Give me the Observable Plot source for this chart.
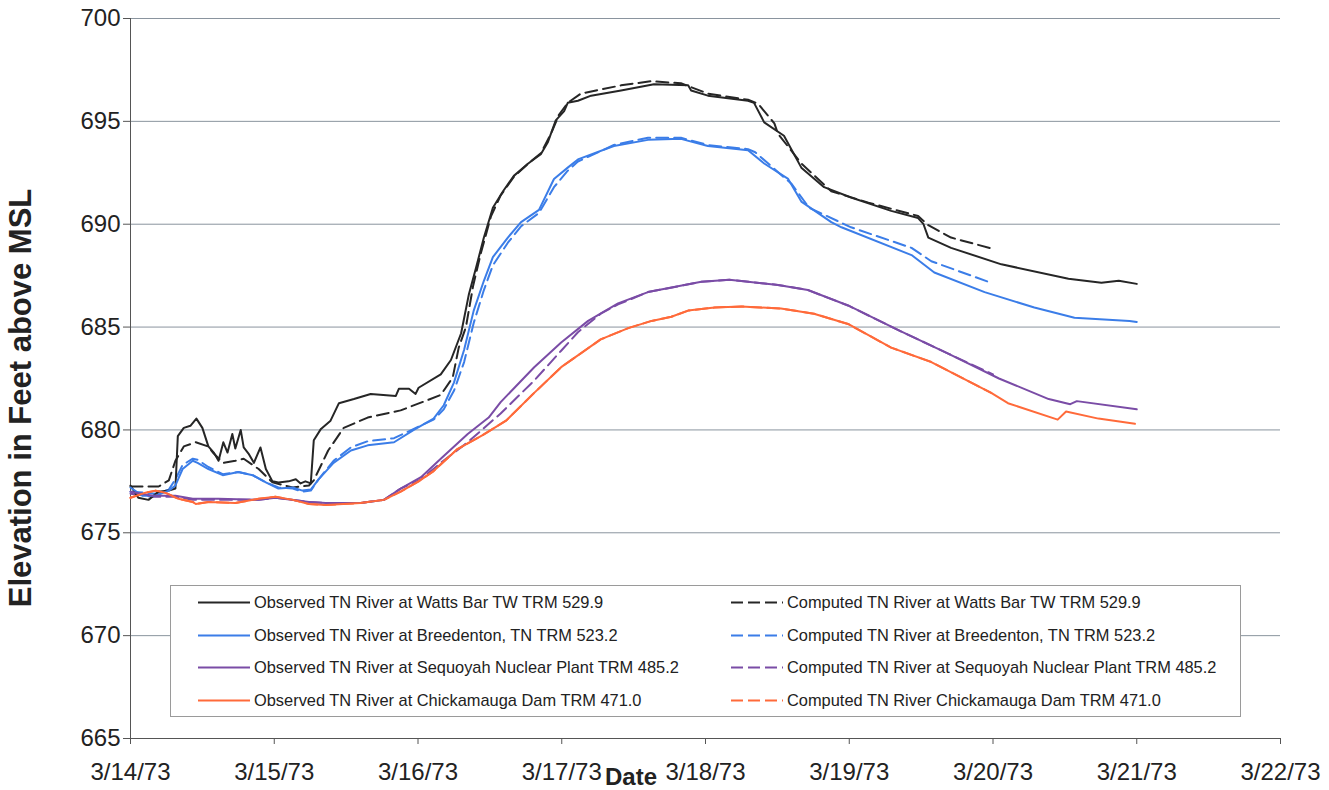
<!DOCTYPE html>
<html><head><meta charset="utf-8">
<script src="https://cdn.jsdelivr.net/npm/d3@7"></script>
<script src="https://cdn.jsdelivr.net/npm/@observablehq/plot@0.6"></script>
<style>
body{margin:0;background:#fff;}
#wrap{position:relative;width:1329px;height:790px;font-family:"Liberation Sans",Arial,sans-serif;color:#222;}
#wrap > svg{position:absolute;left:0;top:0;}
#ytitle{position:absolute;left:21px;top:398px;transform:translate(-50%,-50%) rotate(-90deg);font-weight:bold;font-size:31px;white-space:nowrap;}
#xtitle{position:absolute;left:631px;top:777px;transform:translate(-50%,-50%);font-weight:bold;font-size:24px;}
#legend{position:absolute;left:170px;top:585px;width:1071px;height:132px;border:1px solid #9a9a9a;background:#fff;box-sizing:border-box;}
.item{position:absolute;display:flex;align-items:center;font-size:16.4px;white-space:nowrap;transform:translateY(-50%);}
.item svg{display:block;margin-right:4px;}
</style></head>
<body><div id="wrap"></div>
<script>
// ---- data (hours after 3/14/73 00:00, elevation in ft above MSL) ----
const xTickLabels = ["3/14/73","3/15/73","3/16/73","3/17/73","3/18/73","3/19/73","3/20/73","3/21/73","3/22/73"];
const yTicks = [665,670,675,680,685,690,695,700];

const wbObsHours = [0,1.3,3.0,4.7,6.4,7.5,7.9,8.9,10.0,11.0,12.0,13.0,13.9,14.7,15.5,16.2,17.0,17.5,18.4,18.9,19.7,20.6,21.7,22.6,23.7,24.7,26.4,27.6,28.4,29.2,30.1,30.6,31.8,33.4,34.8,37.3,40.1,44.3,44.8,46.5,47.6,48.1,51.8,53.5,55.2,56.5,57.7,59.0,60.5,62.2,64.0,66.4,68.5,69.7,71.0,72.4,73.0,74.7,76.9,81.9,87.4,93.1,93.6,96.4,103.1,104.1,105.8,109.1,112.0,115.8,120.3,127.0,131.5,132.4,133.2,137.0,145.4,156.6,162.1,165.0,168.0];
const wbObsElev = [677.3,676.7,676.6,677.0,677.05,677.15,679.7,680.1,680.2,680.55,680.1,679.2,678.9,678.5,679.4,678.9,679.8,679.1,680.0,679.15,678.85,678.4,679.15,678.1,677.5,677.45,677.5,677.6,677.4,677.5,677.4,679.5,680.05,680.45,681.3,681.5,681.75,681.65,682.0,682.0,681.75,682.05,682.7,683.4,684.7,686.6,687.9,689.35,690.8,691.6,692.35,692.95,693.4,694.0,695.05,695.5,695.9,696.0,696.25,696.5,696.8,696.75,696.5,696.25,696.0,695.9,694.95,694.3,692.75,691.8,691.3,690.65,690.3,690.0,689.35,688.85,688.05,687.35,687.15,687.25,687.1];

const wbCompHours = [0,4.7,6.4,7.5,8.9,10.9,12.9,13.9,15.5,17.5,18.9,21.4,23.7,27.1,29.8,30.6,33.0,35.6,39.6,45.1,49.6,51.8,53.8,54.8,56.0,57.2,58.5,60.2,61.8,64.0,66.4,68.5,70.2,71.5,73.0,75.2,81.9,86.9,91.9,96.4,103.1,104.8,107.5,108.1,112.0,117.0,123.2,131.5,133.2,137.0,144.0];
const wbCompElev = [677.25,677.25,677.55,678.5,679.2,679.4,679.2,678.85,678.4,678.5,678.6,678.1,677.45,677.2,677.3,677.55,679.0,680.1,680.6,680.95,681.45,681.7,682.55,684.0,685.0,687.0,688.6,690.4,691.4,692.3,692.95,693.45,694.4,695.3,695.9,696.35,696.75,696.95,696.85,696.35,696.05,695.85,694.9,694.4,692.95,691.6,691.05,690.4,689.95,689.35,688.8];

const brObsHours = [0,2.0,4.2,6.4,7.5,8.7,10.4,11.2,13.0,15.4,18.0,20.4,22.6,24.7,27.1,28.7,30.1,31.4,33.9,36.8,39.6,44.0,47.3,50.6,52.3,54.0,55.7,57.3,59.0,60.5,63.0,65.2,68.2,70.7,73.0,74.7,80.7,86.4,91.9,96.4,103.1,105.8,109.8,112.0,117.0,118.7,130.4,134.2,142.6,150.9,157.6,166.8,168.0];
const brObsElev = [677.2,676.8,676.8,677.05,677.3,678.1,678.5,678.4,678.1,677.8,677.95,677.8,677.45,677.15,677.2,677.05,677.1,677.6,678.4,679.0,679.25,679.4,680.0,680.55,681.2,682.3,683.9,685.8,687.25,688.4,689.35,690.1,690.7,692.2,692.75,693.15,693.8,694.1,694.15,693.8,693.6,692.95,692.2,691.1,690.1,689.85,688.5,687.65,686.7,685.95,685.45,685.3,685.25];

const brCompHours = [0,4.2,6.4,7.5,8.7,10.4,11.2,13.0,15.4,18.0,20.4,22.6,24.7,27.1,28.7,30.1,31.4,33.9,36.8,39.6,44.0,47.3,50.6,52.3,54.0,55.7,57.3,59.0,60.5,63.0,65.2,68.2,70.7,73.0,74.7,80.7,86.4,91.9,96.4,103.1,104.3,110.4,113.3,120.3,130.4,133.7,143.7];
const brCompElev = [677.0,676.9,677.1,677.6,678.3,678.6,678.55,678.2,677.85,677.95,677.8,677.45,677.2,677.15,677.0,677.05,677.6,678.5,679.15,679.45,679.6,680.05,680.5,681.0,681.9,683.3,685.2,686.8,688.0,689.1,689.9,690.55,691.8,692.6,693.05,693.85,694.2,694.2,693.85,693.65,693.5,691.95,690.8,689.85,688.85,688.2,687.15];

const sqObsHours = [0,3.7,7.5,10.4,14.7,21.4,24.2,29.8,32.6,38.4,42.3,45.1,48.5,51.8,56.3,59.8,61.8,67.4,71.9,76.4,81.4,86.4,95.3,100.0,108.1,113.1,119.8,128.2,136.6,145.0,153.3,156.9,158.0,168.0];
const sqObsElev = [677.0,676.8,676.8,676.65,676.65,676.6,676.7,676.5,676.45,676.45,676.6,677.15,677.7,678.6,679.8,680.6,681.35,683.05,684.25,685.3,686.15,686.7,687.2,687.3,687.05,686.8,686.05,684.85,683.7,682.5,681.5,681.25,681.4,681.0];

const sqCompHours = [0,3.7,7.5,10.4,14.7,21.4,24.2,29.8,32.6,38.4,42.3,45.1,48.5,51.8,56.3,61.8,67.4,71.9,74.7,78.5,81.4,86.4,95.3,100.0,108.1,113.1,119.8,128.2,136.6,144.0];
const sqCompElev = [676.9,676.75,676.75,676.6,676.6,676.6,676.7,676.5,676.45,676.45,676.6,677.15,677.6,678.4,679.4,680.8,682.4,683.85,684.75,685.65,686.1,686.7,687.2,687.3,687.05,686.8,686.05,684.85,683.7,682.7];

const cdObsHours = [0,2.5,4.2,5.8,8.0,10.4,10.9,13.0,17.5,21.4,24.2,27.1,29.8,32.6,38.4,42.3,45.1,48.1,50.6,54.5,58.8,62.7,67.4,71.9,78.5,83.1,87.0,90.3,93.1,97.5,102.0,108.6,114.1,119.8,127.0,133.7,143.7,146.5,154.8,156.2,161.6,167.7];
const cdObsElev = [676.7,676.95,677.05,676.95,676.65,676.5,676.4,676.5,676.45,676.65,676.75,676.6,676.4,676.35,676.45,676.6,677.0,677.5,678.0,679.05,679.75,680.45,681.8,683.05,684.4,684.95,685.3,685.5,685.8,685.95,686.0,685.9,685.65,685.15,684.0,683.3,681.8,681.3,680.5,680.9,680.55,680.3];

const cdCompHours = [0,2.5,4.2,5.8,8.0,10.4,10.9,13.0,17.5,21.4,24.2,27.1,29.8,32.6,38.4,42.3,45.1,48.1,50.6,54.5,58.8,62.7,67.4,71.9,78.5,83.1,87.0,90.3,93.1,97.5,102.0,108.6,114.1,119.8,127.0,133.7,143.7];
const cdCompElev = [676.7,676.95,677.05,676.95,676.65,676.5,676.4,676.5,676.45,676.65,676.75,676.6,676.4,676.35,676.45,676.6,677.0,677.5,678.0,679.05,679.75,680.45,681.8,683.05,684.4,684.95,685.3,685.5,685.8,685.95,686.0,685.9,685.65,685.15,684.0,683.3,681.8];

const seriesNames = [
  "Observed TN River at Watts Bar TW TRM 529.9","Computed TN River at Watts Bar TW TRM 529.9",
  "Observed TN River at Breedenton, TN TRM 523.2","Computed TN River at Breedenton, TN TRM 523.2",
  "Observed TN River at Sequoyah Nuclear Plant TRM 485.2","Computed TN River at Sequoyah Nuclear Plant TRM 485.2",
  "Observed TN River at Chickamauga Dam TRM 471.0","Computed TN River Chickamauga Dam TRM 471.0"];
const seriesColors = ["#262626","#262626","#3b7de8","#3b7de8","#7a4ca6","#7a4ca6","#ff6a3a","#ff6a3a"];

// ---- build ----
const t0 = Date.UTC(1973,2,14);
const toDate = h => new Date(t0 + h*3600e3);
const xTickDates = xTickLabels.map((_, i) => toDate(24*i));
const hoursList = [wbObsHours,wbCompHours,brObsHours,brCompHours,sqObsHours,sqCompHours,cdObsHours,cdCompHours];
const elevList = [wbObsElev,wbCompElev,brObsElev,brCompElev,sqObsElev,sqCompElev,cdObsElev,cdCompElev];
const series = seriesNames.map((name, k) => ({
  name, color: seriesColors[k], dashed: name.startsWith("Computed"),
  data: hoursList[k].map((h, i) => ({date: toDate(h), elev: elevList[k][i]}))
}));
const drawOrder = [1,3,5,7,0,2,4,6];

const chart = Plot.plot({
  width: 1329, height: 790,
  marginLeft: 130, marginRight: 49, marginTop: 18, marginBottom: 52,
  style: {fontFamily: '"Liberation Sans", Arial, sans-serif', fontSize: "24px", color: "#222", background: "transparent", overflow: "visible"},
  x: {type: "utc", domain: [xTickDates[0], xTickDates[xTickDates.length-1]]},
  y: {domain: [665, 700]},
  marks: [
    Plot.gridY(yTicks, {stroke: "#8a949e", strokeOpacity: 1, strokeWidth: 1}),
    Plot.axisY(yTicks, {tickSize: 7, tickPadding: 3, label: null, stroke: "#555"}),
    Plot.axisX(xTickDates, {tickSize: 6, tickPadding: 18, label: null, stroke: "#555",
      tickFormat: d => xTickLabels[xTickDates.findIndex(t => +t === +d)]}),
    Plot.ruleX([xTickDates[0]], {stroke: "#555"}),
    Plot.ruleY([665], {stroke: "#555"}),
    ...drawOrder.map(k => Plot.line(series[k].data, {
      x: "date", y: "elev", stroke: series[k].color, strokeWidth: 2,
      strokeDasharray: series[k].dashed ? "12,6" : null, curve: "linear"
    }))
  ]
});

const wrap = document.getElementById("wrap");
wrap.appendChild(chart);

const yt = document.createElement("div"); yt.id = "ytitle"; yt.textContent = "Elevation in Feet above MSL"; wrap.appendChild(yt);
const xt = document.createElement("div"); xt.id = "xtitle"; xt.textContent = "Date"; wrap.appendChild(xt);

const legend = document.createElement("div"); legend.id = "legend"; wrap.appendChild(legend);
const rowY = [16, 49, 81, 114];
series.forEach((s, k) => {
  const col = k % 2, row = Math.floor(k / 2);
  const item = document.createElement("div"); item.className = "item";
  item.style.left = (col ? 560 : 27) + "px"; item.style.top = rowY[row] + "px";
  item.innerHTML = `<svg width="52" height="6"><line x1="0" x2="52" y1="3" y2="3" stroke="${s.color}" stroke-width="2" ${s.dashed ? 'stroke-dasharray="12,5"' : ''}/></svg><span>${s.name}</span>`;
  legend.appendChild(item);
});
</script>
</body></html>
